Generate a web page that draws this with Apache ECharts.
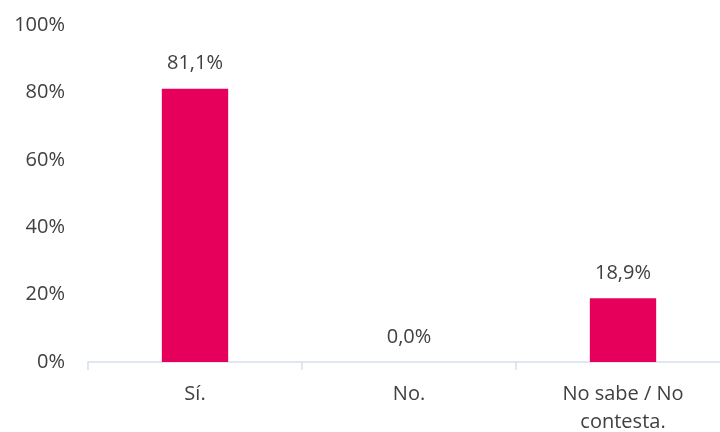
<!DOCTYPE html>
<html>
<head>
<meta charset="utf-8">
<script src="https://cdn.jsdelivr.net/npm/echarts@6/dist/echarts.min.js"></script>
<style>
  html, body { margin: 0; padding: 0; background: #fff; }
  #chart { width: 720px; height: 432px; }
</style>
</head>
<body>
<div id="chart"></div>
<script>
// datos
var categories = ["Sí.", "No.", "No sabe / No\ncontesta."];
var values = [81.1, 0.0, 18.9];
var yTicks = [0, 20, 40, 60, 80, 100];

var font = "'Open Sans', sans-serif";
var textColor = "#404040";

var myChart = echarts.init(document.getElementById("chart"));
myChart.setOption({
  animation: false,
  grid: { left: 88, width: 642, top: 25, height: 337, outerBoundsMode: "none" },
  xAxis: {
    type: "category",
    data: categories,
    axisLine: { lineStyle: { color: "#D6E0EE", width: 1.5 } },
    axisTick: { show: true, length: 8, alignWithLabel: false, lineStyle: { color: "#D6E0EE", width: 1.5 } },
    axisLabel: { color: textColor, fontFamily: font, fontSize: 20, margin: 18, lineHeight: 28, interval: 0 }
  },
  yAxis: {
    type: "value",
    min: yTicks[0],
    max: yTicks[yTicks.length - 1],
    interval: 20,
    splitLine: { show: false },
    axisLine: { show: false },
    axisTick: { show: false },
    axisLabel: {
      color: textColor, fontFamily: font, fontSize: 20, margin: 23,
      formatter: function (v) { return v + "%"; }
    }
  },
  series: [{
    type: "bar",
    data: values,
    barWidth: "31%",
    itemStyle: { color: "#E6005C" },
    label: {
      show: true,
      position: "top",
      distance: 15,
      color: textColor,
      fontFamily: font,
      fontSize: 20,
      formatter: function (p) { return p.value.toFixed(1).replace(".", ",") + "%"; }
    }
  }]
});
</script>
</body>
</html>
